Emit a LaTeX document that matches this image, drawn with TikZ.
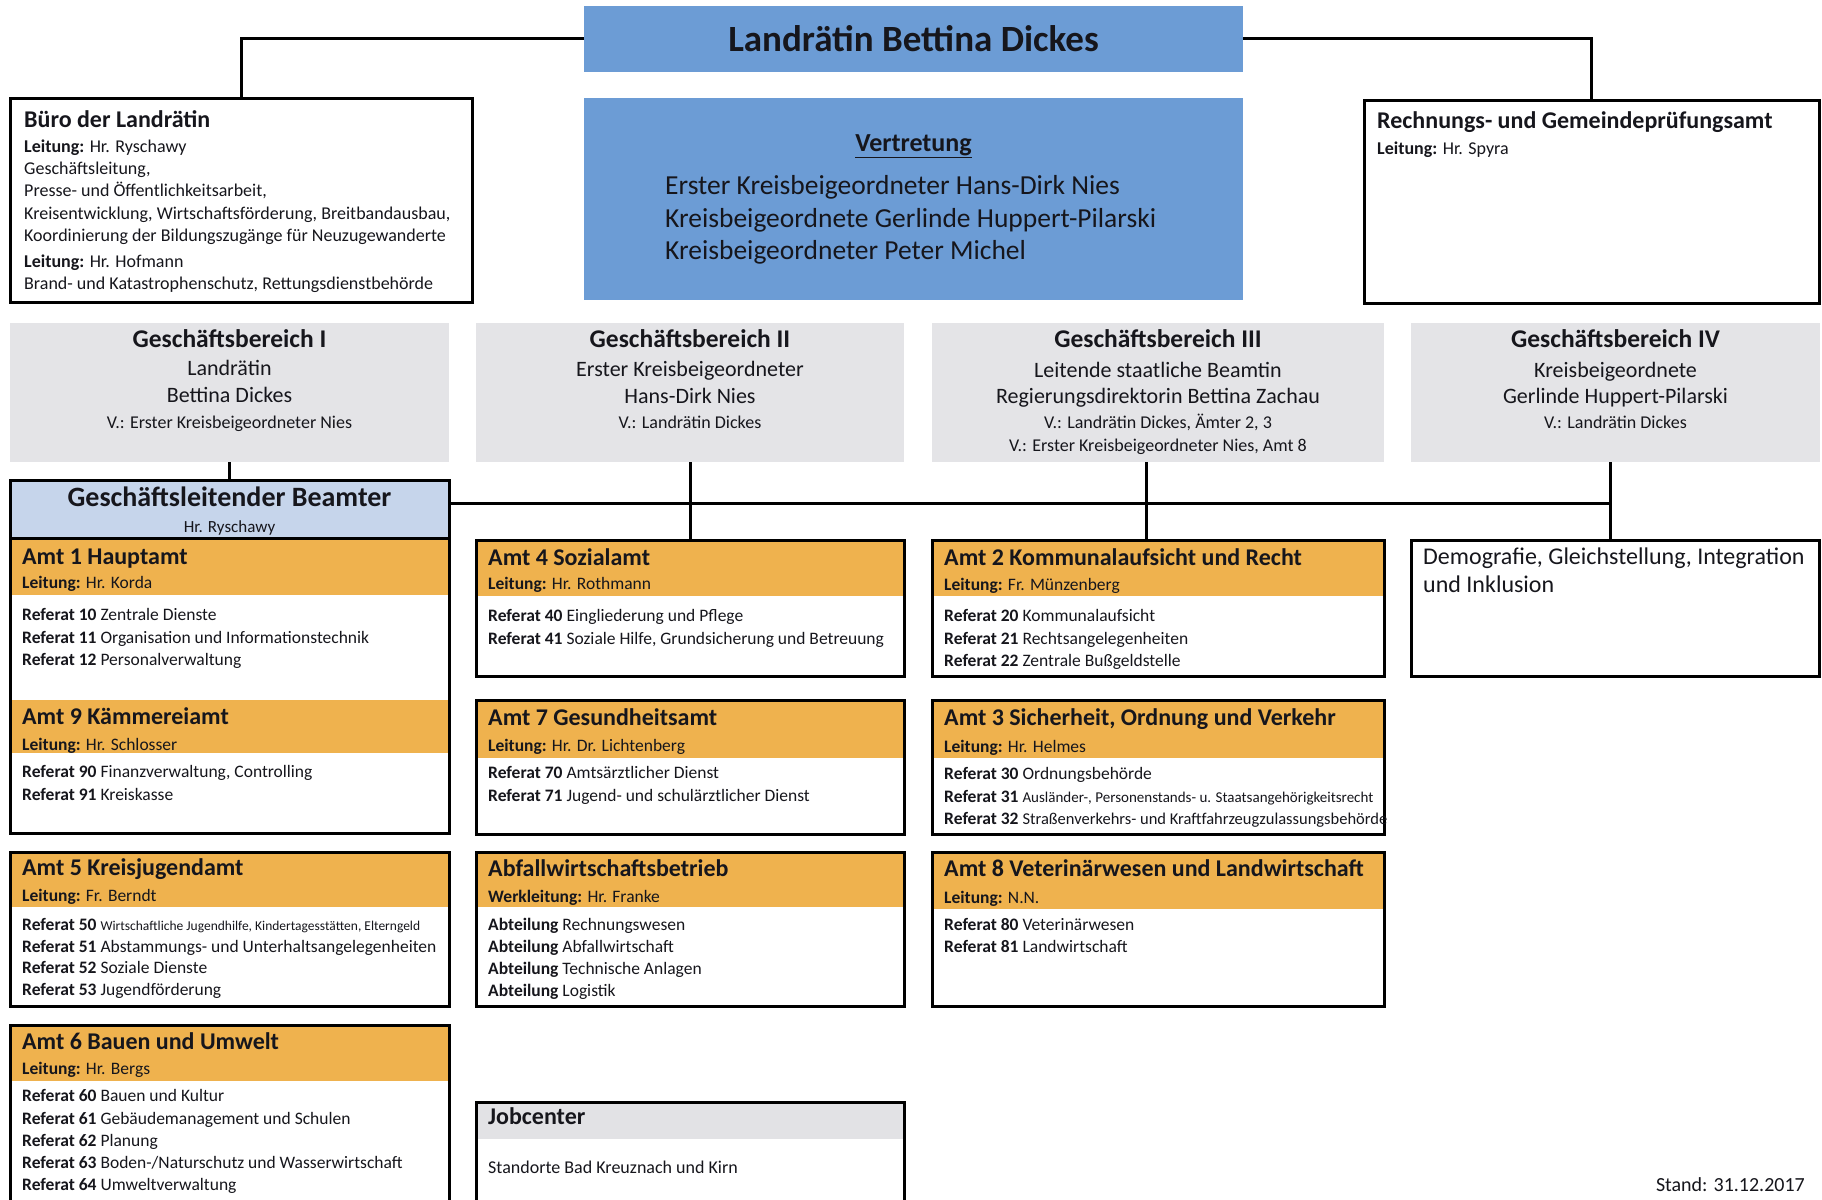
\documentclass[tikz,border=0pt]{standalone}
\usepackage{fontspec}
\setmainfont{Carlito}
\usetikzlibrary{calc}

\definecolor{chefblau}{RGB}{108,156,213}
\definecolor{gbgrau}{RGB}{228,228,231}
\definecolor{glbblau}{RGB}{198,213,235}
\definecolor{amtorange}{RGB}{239,178,78}
\definecolor{kopfgrau}{RGB}{226,226,229}
\definecolor{tinte}{RGB}{22,22,28}

\newcommand{\fsz}[1]{\fontsize{#1}{#1}\selectfont}
\newcommand{\ltg}[1]{\textbf{Leitung:} #1}
\newcommand{\refz}[2]{\textbf{Referat #1} #2}
\newcommand{\abt}[1]{\textbf{Abteilung} #1}

% font sizes
\newcommand{\fHead}{\fsz{24}\bfseries}
\newcommand{\fBody}{\fsz{17.5}}
\newcommand{\fGbT}{\fsz{25.5}\bfseries}
\newcommand{\fGb}{\fsz{22}}
\newcommand{\fGbV}{\fsz{18}}

% box: name, x1, y1, x2, y2, style
\newcommand{\rahmen}[6]{%
  \node[kasten, #6, anchor=north west,
        minimum width={(#4-#2)*1pt}, minimum height={(#5-#3)*1pt}] (#1) at (#2,#3) {};}
% coloured header band inside a box
\newcommand{\band}[5]{\fill[#5] (#1,#2) rectangle (#3,#4);}
% one line of text: name, x, y, font, text
\newcommand{\zl}[5]{\node[zeile, font=#4] (#1) at (#2,#3) {#5};}
\newcommand{\zc}[5]{\node[zeilec, font=#4] (#1) at (#2,#3) {#5};}

\tikzset{
  kasten/.style={inner sep=0pt, outer sep=0pt, draw=none},
  rand/.style={draw=black, line width=3pt, line join=miter},
  verb/.style={draw=black, line width=3pt},
  zeile/.style={anchor=mid west, inner sep=0pt, text=tinte},
  zeilec/.style={anchor=mid, inner sep=0pt, text=tinte},
}

\begin{document}
\begin{tikzpicture}[x=1pt,y=-1pt]
\useasboundingbox (0,0) rectangle (1822,1199);
\fill[white] (0,0) rectangle (1822,1199);

% ---------- boxes ----------
\rahmen{chef}{584}{6}{1243}{72}{fill=chefblau}
\rahmen{vertr}{584}{98}{1243}{300}{fill=chefblau}
\rahmen{buero}{10}{98}{472}{302}{fill=white}
\rahmen{rpa}{1364}{100}{1819}{303}{fill=white}
\rahmen{gb1}{10}{323}{449}{462}{fill=gbgrau}
\rahmen{gb2}{476}{323}{904}{462}{fill=gbgrau}
\rahmen{gb3}{932}{323}{1384}{462}{fill=gbgrau}
\rahmen{gb4}{1411}{323}{1820}{462}{fill=gbgrau}
\rahmen{glb}{10}{480}{449}{538}{fill=glbblau}
\rahmen{amt1}{10}{538}{449}{833}{fill=white}
\rahmen{amt5}{10}{852}{449}{1006}{fill=white}
\rahmen{amt6}{10}{1025}{449}{1215}{fill=white}
\rahmen{amt4}{476}{540}{904}{676}{fill=white}
\rahmen{amt7}{476}{700}{904}{834}{fill=white}
\rahmen{awb}{476}{852}{904}{1006}{fill=white}
\rahmen{job}{476}{1102}{904}{1215}{fill=white}
\rahmen{amt2}{932}{540}{1384}{676}{fill=white}
\rahmen{amt3}{932}{700}{1384}{834}{fill=white}
\rahmen{amt8}{932}{852}{1384}{1006}{fill=white}
\rahmen{demo}{1411}{540}{1819}{676}{fill=white}

% ---------- header bands ----------
\band{10}{538}{449}{595}{amtorange}
\band{10}{700}{449}{753}{amtorange}
\band{10}{852}{449}{907}{amtorange}
\band{10}{1025}{449}{1081}{amtorange}
\band{476}{540}{904}{596}{amtorange}
\band{476}{700}{904}{758}{amtorange}
\band{476}{852}{904}{907}{amtorange}
\band{476}{1102}{904}{1139}{kopfgrau}
\band{932}{540}{1384}{596}{amtorange}
\band{932}{700}{1384}{758}{amtorange}
\band{932}{852}{1384}{909}{amtorange}

% ---------- connectors ----------
\coordinate (quer) at (0,503);
\coordinate (x3) at (1146,0);
\coordinate (x4) at (1610,0);
\draw[verb] (chef.west) -| (buero.north);
\draw[verb] (chef.east) -| (rpa.north);
\draw[verb] (gb1.south) -- (glb.north);
\draw[verb] (glb.east |- quer) -- (x4 |- quer);
\draw[verb] (gb2.south) -- (amt4.north);
\draw[verb] (gb3.south -| x3) -- (amt2.north -| x3);
\draw[verb] (gb4.south -| x4) -- (demo.north -| x4);

% ---------- borders ----------
\foreach \b in {buero,rpa,glb,amt1,amt5,amt6,amt4,amt7,awb,job,amt2,amt3,amt8,demo}
  \draw[rand] (\b.north west) rectangle (\b.south east);

% ---------- top row ----------
\zc{chef-t}{913.5}{49}{\fsz{37}\bfseries}{Landrätin Bettina Dickes}

\begin{scope}[shift={(0,5)}]
\zc{vertr-t}{913.5}{144}{\fsz{26}\bfseries}{\underline{Vertretung}}
\zl{vertr-1}{665}{187}{\fsz{27.5}}{Erster Kreisbeigeordneter Hans-Dirk Nies}
\zl{vertr-2}{665}{220}{\fsz{27.5}}{Kreisbeigeordnete Gerlinde Huppert-Pilarski}
\zl{vertr-3}{665}{252}{\fsz{27.5}}{Kreisbeigeordneter Peter Michel}

\zl{buero-t}{24}{120}{\fHead}{Büro der Landrätin}
\zl{buero-1}{24}{145}{\fsz{18}}{\ltg{Hr. Ryschawy}}
\zl{buero-2}{24}{167}{\fsz{18}}{Geschäftsleitung,}
\zl{buero-3}{24}{189}{\fsz{18}}{Presse- und Öffentlichkeitsarbeit,}
\zl{buero-4}{24}{212}{\fsz{18}}{Kreisentwicklung, Wirtschaftsförderung, Breitbandausbau,}
\zl{buero-5}{24}{234}{\fsz{18}}{Koordinierung der Bildungszugänge für Neuzugewanderte}
\zl{buero-6}{24}{260}{\fsz{18}}{\ltg{Hr. Hofmann}}
\zl{buero-7}{24}{282}{\fsz{18}}{Brand- und Katastrophenschutz, Rettungsdienstbehörde}

\zl{rpa-t}{1377}{121}{\fHead}{Rechnungs- und Gemeindeprüfungsamt}
\zl{rpa-1}{1377}{147}{\fsz{18}}{\ltg{Hr. Spyra}}

% ---------- Geschäftsbereiche ----------
\zc{gb1-t}{229.5}{340}{\fGbT}{Geschäftsbereich I}
\zc{gb1-1}{229.5}{368}{\fGb}{Landrätin}
\zc{gb1-2}{229.5}{395}{\fGb}{Bettina Dickes}
\zc{gb1-3}{229.5}{421}{\fGbV}{V.: Erster Kreisbeigeordneter Nies}

\zc{gb2-t}{690}{340}{\fGbT}{Geschäftsbereich II}
\zc{gb2-1}{690}{369}{\fGb}{Erster Kreisbeigeordneter}
\zc{gb2-2}{690}{396}{\fGb}{Hans-Dirk Nies}
\zc{gb2-3}{690}{421}{\fGbV}{V.: Landrätin Dickes}

\zc{gb3-t}{1158}{340}{\fGbT}{Geschäftsbereich III}
\zc{gb3-1}{1158}{370}{\fGb}{Leitende staatliche Beamtin}
\zc{gb3-2}{1158}{396}{\fGb}{Regierungsdirektorin Bettina Zachau}
\zc{gb3-3}{1158}{421}{\fGbV}{V.: Landrätin Dickes, Ämter 2, 3}
\zc{gb3-4}{1158}{444}{\fGbV}{V.: Erster Kreisbeigeordneter Nies, Amt 8}

\zc{gb4-t}{1615.5}{340}{\fGbT}{Geschäftsbereich IV}
\zc{gb4-1}{1615.5}{370}{\fGb}{Kreisbeigeordnete}
\zc{gb4-2}{1615.5}{396}{\fGb}{Gerlinde Huppert-Pilarski}
\zc{gb4-3}{1615.5}{421}{\fGbV}{V.: Landrätin Dickes}

\zc{glb-t}{229.5}{499}{\fsz{28}\bfseries}{Geschäftsleitender Beamter}
\zc{glb-1}{229.5}{525}{\fsz{17}}{Hr. Ryschawy}

% ---------- column 1 ----------
\zl{amt1-t}{22}{557}{\fHead}{Amt 1 Hauptamt}
\zl{amt1-l}{22}{581}{\fBody}{\ltg{Hr. Korda}}
\zl{amt1-1}{22}{613}{\fBody}{\refz{10}{Zentrale Dienste}}
\zl{amt1-2}{22}{636}{\fBody}{\refz{11}{Organisation und Informationstechnik}}
\zl{amt1-3}{22}{658}{\fBody}{\refz{12}{Personalverwaltung}}
\zl{amt9-t}{22}{717}{\fHead}{Amt 9 Kämmereiamt}
\zl{amt9-l}{22}{743}{\fBody}{\ltg{Hr. Schlosser}}
\zl{amt9-1}{22}{770}{\fBody}{\refz{90}{Finanzverwaltung, Controlling}}
\zl{amt9-2}{22}{793}{\fBody}{\refz{91}{Kreiskasse}}

\zl{amt5-t}{22}{868}{\fHead}{Amt 5 Kreisjugendamt}
\zl{amt5-l}{22}{894}{\fBody}{\ltg{Fr. Berndt}}
\zl{amt5-1}{22}{923}{\fBody}{\refz{50}{{\fsz{13.5}Wirtschaftliche Jugendhilfe, Kindertagesstätten, Elterngeld}}}
\zl{amt5-2}{22}{945}{\fBody}{\refz{51}{Abstammungs- und Unterhaltsangelegenheiten}}
\zl{amt5-3}{22}{966}{\fBody}{\refz{52}{Soziale Dienste}}
\zl{amt5-4}{22}{988}{\fBody}{\refz{53}{Jugendförderung}}

\zl{amt6-t}{22}{1042}{\fHead}{Amt 6 Bauen und Umwelt}
\zl{amt6-l}{22}{1067}{\fBody}{\ltg{Hr. Bergs}}
\zl{amt6-1}{22}{1094}{\fBody}{\refz{60}{Bauen und Kultur}}
\zl{amt6-2}{22}{1117}{\fBody}{\refz{61}{Gebäudemanagement und Schulen}}
\zl{amt6-3}{22}{1139}{\fBody}{\refz{62}{Planung}}
\zl{amt6-4}{22}{1161}{\fBody}{\refz{63}{Boden-/Naturschutz und Wasserwirtschaft}}
\zl{amt6-5}{22}{1183}{\fBody}{\refz{64}{Umweltverwaltung}}

% ---------- column 2 ----------
\zl{amt4-t}{488}{558}{\fHead}{Amt 4 Sozialamt}
\zl{amt4-l}{488}{582}{\fBody}{\ltg{Hr. Rothmann}}
\zl{amt4-1}{488}{614}{\fBody}{\refz{40}{Eingliederung und Pflege}}
\zl{amt4-2}{488}{637}{\fBody}{\refz{41}{Soziale Hilfe, Grundsicherung und Betreuung}}

\zl{amt7-t}{488}{718}{\fHead}{Amt 7 Gesundheitsamt}
\zl{amt7-l}{488}{744}{\fBody}{\ltg{Hr. Dr. Lichtenberg}}
\zl{amt7-1}{488}{771}{\fBody}{\refz{70}{Amtsärztlicher Dienst}}
\zl{amt7-2}{488}{794}{\fBody}{\refz{71}{Jugend- und schulärztlicher Dienst}}

\zl{awb-t}{488}{869}{\fHead}{Abfallwirtschaftsbetrieb}
\zl{awb-l}{488}{895}{\fBody}{\textbf{Werkleitung:} Hr. Franke}
\zl{awb-1}{488}{923}{\fBody}{\abt{Rechnungswesen}}
\zl{awb-2}{488}{945}{\fBody}{\abt{Abfallwirtschaft}}
\zl{awb-3}{488}{967}{\fBody}{\abt{Technische Anlagen}}
\zl{awb-4}{488}{989}{\fBody}{\abt{Logistik}}

\zl{job-t}{488}{1117}{\fHead}{Jobcenter}
\zl{job-1}{488}{1166}{\fsz{18}}{Standorte Bad Kreuznach und Kirn}

% ---------- column 3 ----------
\zl{amt2-t}{944}{558}{\fHead}{Amt 2 Kommunalaufsicht und Recht}
\zl{amt2-l}{944}{583}{\fBody}{\ltg{Fr. Münzenberg}}
\zl{amt2-1}{944}{614}{\fBody}{\refz{20}{Kommunalaufsicht}}
\zl{amt2-2}{944}{637}{\fBody}{\refz{21}{Rechtsangelegenheiten}}
\zl{amt2-3}{944}{659}{\fBody}{\refz{22}{Zentrale Bußgeldstelle}}

\zl{amt3-t}{944}{718}{\fHead}{Amt 3 Sicherheit, Ordnung und Verkehr}
\zl{amt3-l}{944}{745}{\fBody}{\ltg{Hr. Helmes}}
\zl{amt3-1}{944}{772}{\fBody}{\refz{30}{Ordnungsbehörde}}
\zl{amt3-2}{944}{795}{\fBody}{\refz{31}{{\fsz{15}Ausländer-, Personenstands- u. Staatsangehörigkeitsrecht}}}
\zl{amt3-3}{944}{817}{\fBody}{\refz{32}{{\fsz{16.5}Straßenverkehrs- und Kraftfahrzeugzulassungsbehörde}}}

\zl{amt8-t}{944}{869}{\fHead}{Amt 8 Veterinärwesen und Landwirtschaft}
\zl{amt8-l}{944}{896}{\fBody}{\ltg{N.N.}}
\zl{amt8-1}{944}{923}{\fBody}{\refz{80}{Veterinärwesen}}
\zl{amt8-2}{944}{945}{\fBody}{\refz{81}{Landwirtschaft}}

% ---------- column 4 ----------
\zl{demo-1}{1423}{557}{\fsz{24}}{Demografie, Gleichstellung, Integration}
\zl{demo-2}{1423}{585}{\fsz{24}}{und Inklusion}

\node[anchor=mid east, inner sep=0pt, text=tinte, font=\fsz{20}] (stand) at (1805,1184) {Stand: 31.12.2017};
\end{scope}
\end{tikzpicture}
\end{document}
